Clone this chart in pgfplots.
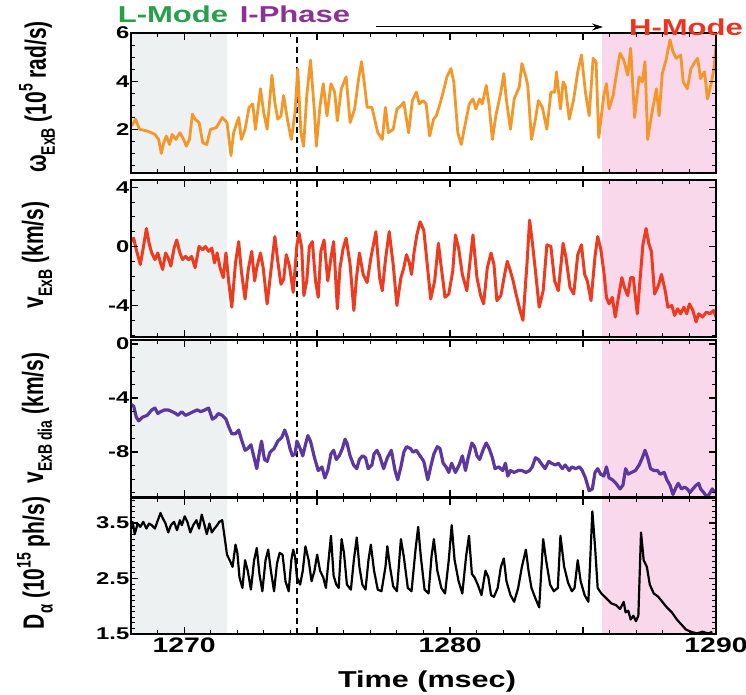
\documentclass[border=0pt]{standalone}
\usepackage{fontspec}
\setmainfont{Liberation Sans}
\usepackage{pgfplots}
\pgfplotsset{compat=1.18}
\usetikzlibrary{arrows.meta}
\definecolor{omegaC}{RGB}{245,150,40}
\definecolor{vexbC}{RGB}{238,58,30}
\definecolor{diaC}{RGB}{92,55,160}
\definecolor{lmodeC}{RGB}{238,241,242}
\definecolor{hmodeC}{RGB}{250,216,236}
\definecolor{greenT}{RGB}{40,160,75}
\definecolor{purpleT}{RGB}{140,50,150}
\definecolor{redT}{RGB}{238,50,30}
\pgfplotsset{
  panel/.style={
    scale only axis, width=585pt, xmin=1268, xmax=1290,
    xtick={1270,1275,1280,1285,1290},
    minor xtick={1268,1269,...,1290},
    xticklabels={},
    tick align=inside,
    axis line style={line width=1.6pt},
    major tick style={line width=1.3pt, black},
    minor tick style={line width=1pt, black},
    major tick length=7pt, minor tick length=4pt,
    yticklabel style={font=\bfseries\fontsize{17}{17}\selectfont, xscale=1.4, inner sep=1pt},
    /pgf/number format/assume math mode=true,
    axis on top,
  },
}
\newcommand{\phaseshade}[2]{%
  \fill[lmodeC] (axis cs:1268,#1) rectangle (axis cs:1271.6,#2);
  \fill[hmodeC] (axis cs:1285.7,#1) rectangle (axis cs:1290,#2);
  \draw[black, line width=1.6pt, dash pattern=on 6pt off 4pt] (axis cs:1274.25,#1) -- (axis cs:1274.25,#2);}
\begin{document}
\begin{tikzpicture}[x=1pt,y=1pt]
\useasboundingbox (0,0) rectangle (746,694);

% Panel 1: omega ExB
\begin{axis}[panel, at={(131pt,521pt)}, anchor=south west, height=140pt,
  ymin=0.2, ymax=6, ytick={2,4,6}, minor ytick={0.5,1,...,5.5}]
\phaseshade{0.2}{6}
\addplot[omegaC, line width=2.8pt, line join=round, mark=none] coordinates {
(1268.03,2.15)(1268.17,2.43)(1268.32,2.01)(1268.61,1.94)(1268.90,1.80)(1269.04,1.59)
(1269.14,1.01)(1269.23,1.45)(1269.33,1.73)(1269.45,1.38)(1269.55,1.80)(1269.69,1.59)
(1269.84,1.87)(1269.98,1.59)(1270.08,1.31)(1270.20,1.59)(1270.31,2.64)(1270.41,2.43)
(1270.56,2.29)(1270.70,1.45)(1270.85,1.38)(1270.99,2.01)(1271.21,2.08)(1271.43,2.50)
(1271.61,2.29)(1271.76,0.92)(1271.86,1.87)(1272.05,2.50)(1272.15,1.59)(1272.29,2.01)
(1272.44,2.92)(1272.58,3.06)(1272.68,2.01)(1272.87,3.69)(1272.99,2.71)(1273.12,2.01)
(1273.30,4.25)(1273.41,3.13)(1273.52,2.43)(1273.64,2.57)(1273.74,3.41)(1273.88,2.43)
(1274.03,1.59)(1274.17,2.71)(1274.27,4.53)(1274.39,1.87)(1274.49,1.31)(1274.61,3.41)
(1274.75,4.88)(1274.90,2.71)(1274.97,1.31)(1275.11,2.99)(1275.23,3.90)(1275.37,2.57)
(1275.52,3.90)(1275.66,3.55)(1275.76,2.36)(1275.91,3.69)(1276.09,4.18)(1276.24,2.29)
(1276.41,2.85)(1276.56,4.11)(1276.67,4.81)(1276.77,3.97)(1276.88,2.92)(1277.06,2.92)
(1277.28,1.87)(1277.45,1.59)(1277.57,2.92)(1277.68,1.87)(1277.86,2.01)(1278.00,2.85)
(1278.15,2.99)(1278.26,3.13)(1278.44,1.87)(1278.58,3.20)(1278.73,3.55)(1278.84,3.06)
(1278.99,3.20)(1279.10,3.06)(1279.23,1.73)(1279.38,2.43)(1279.48,2.57)(1279.62,3.06)
(1279.77,3.69)(1279.88,4.18)(1280.03,4.53)(1280.14,3.97)(1280.29,1.87)(1280.42,1.38)
(1280.53,2.01)(1280.72,3.06)(1280.86,3.27)(1280.97,2.85)(1281.11,3.27)(1281.21,3.06)
(1281.36,3.83)(1281.47,2.99)(1281.59,1.59)(1281.72,2.57)(1281.91,3.55)(1282.02,4.32)
(1282.12,3.20)(1282.27,2.01)(1282.41,3.27)(1282.60,3.76)(1282.70,4.74)(1282.85,4.18)
(1282.92,3.83)(1283.06,1.59)(1283.21,2.43)(1283.32,3.20)(1283.47,2.92)(1283.64,2.01)
(1283.79,3.55)(1283.93,3.55)(1284.00,4.39)(1284.15,2.85)(1284.25,3.97)(1284.33,3.83)
(1284.48,2.43)(1284.65,3.27)(1284.80,4.39)(1284.94,5.09)(1285.09,3.55)(1285.23,2.57)
(1285.38,4.95)(1285.49,4.81)(1285.59,1.66)(1285.78,3.41)(1285.88,3.90)(1285.98,2.85)
(1286.13,3.41)(1286.24,4.18)(1286.39,5.16)(1286.53,4.88)(1286.68,4.25)(1286.79,5.37)
(1286.94,2.50)(1287.11,4.18)(1287.23,3.97)(1287.33,4.81)(1287.43,1.59)(1287.57,2.57)
(1287.76,3.69)(1287.86,2.57)(1287.98,4.32)(1288.12,4.88)(1288.27,5.72)(1288.38,5.23)
(1288.50,4.95)(1288.67,5.09)(1288.77,3.97)(1288.92,3.69)(1289.06,4.53)(1289.21,4.81)
(1289.31,4.95)(1289.42,4.11)(1289.57,4.39)(1289.68,3.27)(1289.83,3.97)(1289.92,4.50)
(1290.00,5.50)};
\end{axis}

% Panel 2: v ExB
\begin{axis}[panel, at={(131pt,357pt)}, anchor=south west, height=157pt,
  ymin=-6.13, ymax=4.5, ytick={-4,0,4}, minor ytick={-6,-5,...,4}]
\phaseshade{-6.13}{4.5}
\addplot[vexbC, line width=3pt, line join=round, mark=none] coordinates {
(1268.00,0.33)(1268.10,0.56)(1268.20,-0.22)(1268.35,-1.22)(1268.46,-0.11)(1268.58,1.22)
(1268.68,0.22)(1268.78,-0.44)(1268.90,-0.89)(1269.01,-0.44)(1269.11,-1.11)(1269.19,-1.56)
(1269.30,-0.44)(1269.40,-0.78)(1269.50,-1.33)(1269.62,-0.11)(1269.72,0.44)(1269.84,-0.44)
(1269.94,-0.89)(1270.05,-0.67)(1270.17,-0.89)(1270.28,-0.67)(1270.41,-1.44)(1270.56,0)
(1270.70,-0.22)(1270.80,0)(1270.92,-0.33)(1271.04,-0.11)(1271.14,-1.11)(1271.24,-0.44)
(1271.35,-1.44)(1271.47,-2.11)(1271.57,-0.44)(1271.67,-2.33)(1271.79,-4.11)(1271.93,-1.11)
(1272.05,0.33)(1272.15,-1.67)(1272.29,-3.56)(1272.41,-1.56)(1272.54,-0.33)(1272.65,-2.33)
(1272.73,-1.44)(1272.87,-0.44)(1272.97,-1.44)(1273.12,-3.89)(1273.26,-1.67)(1273.41,0.67)
(1273.52,-1.0)(1273.64,-2.56)(1273.74,-2.22)(1273.84,-0.56)(1273.96,-1.33)(1274.10,-3.11)
(1274.24,0.11)(1274.32,0.89)(1274.42,-0.11)(1274.50,-3.33)(1274.61,-2.33)(1274.71,0)
(1274.82,0.33)(1274.94,-2.33)(1275.04,-3.44)(1275.14,-0.33)(1275.26,0.44)(1275.40,-2.33)
(1275.52,-0.78)(1275.62,0.33)(1275.76,-4.22)(1275.86,-1.44)(1275.98,-0.11)(1276.09,0.56)
(1276.24,-1.22)(1276.38,-4.33)(1276.48,-2.11)(1276.59,-0.44)(1276.73,-1.89)(1276.88,-2.44)
(1277.02,-0.78)(1277.21,1.0)(1277.35,-2.11)(1277.45,-3.0)(1277.57,-0.89)(1277.71,1.0)
(1277.86,-1.22)(1278.00,-4.0)(1278.15,-2.11)(1278.26,-1.44)(1278.36,-0.56)(1278.47,-1.11)
(1278.55,-1.89)(1278.65,-0.33)(1278.75,0.78)(1278.87,1.67)(1279.01,1.11)(1279.16,-1.56)
(1279.27,-3.56)(1279.42,-2.33)(1279.56,0.22)(1279.67,-1.44)(1279.81,-3.44)(1279.95,-3.22)
(1280.10,-1.67)(1280.20,0.78)(1280.32,-0.11)(1280.46,-1.89)(1280.63,-3.0)(1280.75,-1.0)
(1280.86,0.78)(1281.01,-2.11)(1281.15,-3.33)(1281.26,-3.89)(1281.40,-1.44)(1281.54,-0.44)
(1281.65,-1.22)(1281.76,-3.67)(1281.91,-3.33)(1282.05,-1.89)(1282.15,-1.0)(1282.27,-1.67)
(1282.37,-2.33)(1282.48,-3.22)(1282.63,-4.33)(1282.74,-5.0)(1282.89,-1.22)(1282.99,1.78)
(1283.09,0.33)(1283.21,-1.67)(1283.35,-4.11)(1283.50,-3.0)(1283.64,0.11)(1283.79,0)
(1283.93,-2.33)(1284.07,-3.0)(1284.25,0.22)(1284.36,-0.78)(1284.51,-2.78)(1284.65,-3.22)
(1284.80,-0.56)(1284.94,0.11)(1285.06,-1.89)(1285.16,-2.33)(1285.30,-3.67)(1285.45,-0.67)
(1285.55,0.67)(1285.66,-0.11)(1285.78,-1.67)(1285.88,-3.44)(1285.98,-3.89)(1286.10,-3.44)
(1286.21,-4.78)(1286.31,-3.67)(1286.46,-2.11)(1286.56,-2.78)(1286.68,-3.33)(1286.79,-2.11)
(1286.89,-2.11)(1287.04,-4.56)(1287.14,-2.33)(1287.25,0.11)(1287.37,1.22)(1287.47,0.22)
(1287.57,-0.33)(1287.69,-3.22)(1287.83,-2.67)(1287.95,-1.89)(1288.09,-3.0)(1288.19,-4.11)
(1288.34,-4.0)(1288.44,-4.67)(1288.56,-4.22)(1288.67,-4.56)(1288.79,-4.11)(1288.90,-4.56)
(1289.00,-3.89)(1289.13,-4.33)(1289.25,-5.11)(1289.35,-4.56)(1289.49,-4.78)(1289.64,-4.44)
(1289.77,-4.56)(1289.91,-4.33)(1290.00,-4.78)};
\end{axis}

% Panel 3: v ExB dia
\begin{axis}[panel, at={(131pt,197pt)}, anchor=south west, height=157pt,
  ymin=-11.33, ymax=0.3, ytick={-8,-4,0}, minor ytick={-11,-10,...,0}]
\phaseshade{-11.33}{0.3}
\addplot[diaC, line width=3.2pt, line join=round, mark=none] coordinates {
(1268.00,-4.47)(1268.10,-4.60)(1268.20,-5.42)(1268.29,-5.69)(1268.43,-5.42)(1268.61,-5.28)
(1268.78,-4.88)(1268.90,-4.74)(1269.01,-5.15)(1269.11,-5.01)(1269.26,-4.88)(1269.40,-4.88)
(1269.55,-5.01)(1269.69,-5.15)(1269.76,-5.28)(1269.91,-5.01)(1270.05,-5.28)(1270.20,-5.15)
(1270.34,-5.01)(1270.49,-4.88)(1270.63,-5.01)(1270.78,-4.88)(1270.92,-4.74)(1271.06,-5.56)
(1271.18,-5.42)(1271.28,-5.15)(1271.43,-5.28)(1271.57,-5.56)(1271.67,-6.10)(1271.79,-6.65)
(1271.93,-6.65)(1272.05,-6.37)(1272.15,-7.05)(1272.29,-7.87)(1272.39,-7.74)(1272.51,-7.46)
(1272.63,-8.42)(1272.73,-9.23)(1272.83,-8.01)(1272.91,-7.19)(1273.02,-8.55)(1273.12,-8.69)
(1273.23,-8.01)(1273.38,-7.74)(1273.52,-7.19)(1273.67,-6.92)(1273.78,-6.37)(1273.88,-6.92)
(1273.98,-7.74)(1274.07,-8.28)(1274.17,-8.14)(1274.24,-7.19)(1274.36,-7.74)(1274.46,-8.28)
(1274.56,-7.46)(1274.65,-6.78)(1274.75,-7.19)(1274.90,-8.42)(1275.04,-9.37)(1275.18,-9.10)
(1275.29,-9.92)(1275.40,-9.37)(1275.52,-8.14)(1275.62,-7.87)(1275.72,-8.55)(1275.83,-8.28)
(1275.95,-7.74)(1276.05,-7.05)(1276.12,-7.33)(1276.24,-8.28)(1276.37,-8.96)(1276.49,-9.23)
(1276.59,-8.55)(1276.70,-8.28)(1276.82,-8.42)(1276.92,-9.23)(1277.06,-8.96)(1277.14,-8.14)
(1277.25,-7.87)(1277.35,-8.28)(1277.50,-9.23)(1277.64,-8.42)(1277.79,-7.87)(1277.93,-9.37)
(1278.03,-10.05)(1278.15,-9.10)(1278.26,-8.01)(1278.36,-7.60)(1278.51,-7.74)(1278.61,-8.01)
(1278.73,-7.87)(1278.87,-8.28)(1279.01,-8.69)(1279.16,-10.05)(1279.27,-9.10)(1279.39,-8.14)
(1279.52,-7.60)(1279.62,-7.74)(1279.74,-8.83)(1279.85,-9.10)(1279.95,-9.51)(1280.06,-8.83)
(1280.20,-9.51)(1280.34,-8.96)(1280.46,-8.28)(1280.58,-9.37)(1280.68,-8.42)(1280.82,-7.33)
(1280.92,-7.60)(1281.01,-8.28)(1281.11,-8.55)(1281.26,-7.74)(1281.36,-7.33)(1281.47,-7.74)
(1281.59,-8.42)(1281.69,-9.23)(1281.83,-9.10)(1281.98,-9.37)(1282.08,-8.83)(1282.17,-9.78)
(1282.27,-9.37)(1282.41,-9.51)(1282.56,-9.37)(1282.70,-9.37)(1282.85,-9.51)(1282.99,-9.37)
(1283.09,-9.10)(1283.21,-8.42)(1283.32,-8.55)(1283.42,-8.83)(1283.57,-9.23)(1283.71,-8.69)
(1283.81,-8.83)(1283.96,-8.96)(1284.07,-8.83)(1284.22,-9.23)(1284.33,-8.96)(1284.48,-9.37)
(1284.58,-9.10)(1284.72,-9.23)(1284.87,-9.10)(1284.97,-9.37)(1285.09,-9.92)(1285.23,-10.87)
(1285.35,-10.73)(1285.45,-9.51)(1285.55,-9.23)(1285.66,-9.64)(1285.78,-9.78)(1285.88,-9.10)
(1285.98,-9.92)(1286.10,-10.05)(1286.24,-10.32)(1286.39,-10.73)(1286.50,-10.46)(1286.60,-9.23)
(1286.70,-9.64)(1286.82,-9.51)(1286.97,-9.37)(1287.11,-8.96)(1287.23,-8.42)(1287.33,-7.87)
(1287.43,-8.42)(1287.54,-9.23)(1287.66,-9.37)(1287.80,-9.37)(1287.90,-9.64)(1288.05,-9.51)
(1288.15,-10.05)(1288.27,-10.46)(1288.38,-11.14)(1288.50,-10.60)(1288.58,-10.32)(1288.70,-10.73)
(1288.82,-10.60)(1288.92,-10.73)(1289.02,-11.00)(1289.13,-10.73)(1289.25,-10.46)(1289.35,-10.32)
(1289.42,-10.73)(1289.54,-11.00)(1289.64,-11.28)(1289.74,-11.14)(1289.86,-10.73)(1289.97,-11.00)};
\end{axis}

% Panel 4: D alpha
\begin{axis}[panel, at={(131pt,60pt)}, anchor=south west, height=136pt,
  ymin=1.5, ymax=3.95, ytick={1.5,2.5,3.5}, minor ytick={1.6,1.7,...,3.9},
  /pgf/number format/fixed, /pgf/number format/precision=1,
  xticklabels={1270,,1280,,1290},
  xticklabel style={font=\bfseries\fontsize{21}{21}\selectfont, xscale=1.35}]
\phaseshade{1.5}{3.95}
\addplot[black, line width=2.2pt, line join=round, mark=none] coordinates {
(1268.00,3.40)(1268.06,3.52)(1268.14,3.30)(1268.25,3.49)(1268.35,3.43)(1268.46,3.52)
(1268.58,3.40)(1268.68,3.49)(1268.78,3.46)(1268.90,3.40)(1269.01,3.55)(1269.11,3.68)
(1269.19,3.59)(1269.30,3.49)(1269.40,3.33)(1269.50,3.46)(1269.62,3.52)(1269.73,3.37)
(1269.84,3.55)(1269.91,3.46)(1270.02,3.62)(1270.12,3.52)(1270.23,3.33)(1270.34,3.46)
(1270.46,3.55)(1270.56,3.40)(1270.66,3.65)(1270.75,3.49)(1270.85,3.30)(1270.95,3.49)
(1271.04,3.33)(1271.14,3.40)(1271.24,3.46)(1271.32,3.52)(1271.43,3.55)(1271.53,3.21)
(1271.61,2.93)(1271.71,2.83)(1271.82,2.71)(1271.93,3.11)(1272.00,2.96)(1272.08,2.52)
(1272.19,2.33)(1272.29,2.83)(1272.39,2.64)(1272.51,2.30)(1272.63,2.83)(1272.73,3.05)
(1272.83,2.58)(1272.94,2.27)(1273.06,2.83)(1273.16,3.02)(1273.26,2.64)(1273.38,2.27)
(1273.49,2.77)(1273.59,2.96)(1273.70,2.93)(1273.81,2.45)(1273.93,2.27)(1274.03,2.83)
(1274.10,3.02)(1274.17,2.89)(1274.24,2.52)(1274.36,2.39)(1274.46,2.64)(1274.56,3.08)
(1274.68,2.83)(1274.79,2.45)(1274.90,2.64)(1275.00,2.93)(1275.11,2.64)(1275.23,2.52)
(1275.33,2.33)(1275.43,2.83)(1275.52,3.27)(1275.62,2.55)(1275.72,2.39)(1275.81,2.33)
(1275.92,3.21)(1276.01,2.96)(1276.12,2.39)(1276.27,2.30)(1276.38,2.83)(1276.49,3.24)
(1276.59,2.71)(1276.70,2.39)(1276.82,2.30)(1276.93,2.83)(1277.02,3.11)(1277.14,2.64)
(1277.28,2.30)(1277.42,2.27)(1277.57,2.71)(1277.64,3.08)(1277.74,2.71)(1277.86,2.36)
(1278.00,2.27)(1278.15,3.21)(1278.26,2.89)(1278.41,2.33)(1278.55,2.27)(1278.70,3.02)
(1278.80,3.43)(1278.90,2.89)(1279.04,2.30)(1279.19,2.23)(1279.30,2.89)(1279.39,3.21)
(1279.52,2.64)(1279.67,2.33)(1279.81,2.23)(1279.95,2.83)(1280.06,3.46)(1280.17,2.83)
(1280.32,2.45)(1280.46,2.23)(1280.60,2.89)(1280.71,3.27)(1280.82,2.58)(1280.92,2.52)
(1281.04,2.39)(1281.18,2.20)(1281.33,2.64)(1281.44,2.52)(1281.54,2.20)(1281.65,2.17)
(1281.79,2.33)(1281.91,2.71)(1282.02,2.86)(1282.12,2.45)(1282.27,2.20)(1282.41,2.08)
(1282.56,2.33)(1282.70,2.71)(1282.85,3.02)(1282.95,2.64)(1283.06,2.33)(1283.21,2.14)
(1283.35,1.98)(1283.50,3.21)(1283.61,2.83)(1283.76,2.39)(1283.90,2.27)(1284.05,2.33)
(1284.15,3.27)(1284.29,2.71)(1284.44,2.42)(1284.58,2.27)(1284.68,2.33)(1284.80,2.83)
(1284.91,2.45)(1285.06,2.20)(1285.20,2.08)(1285.35,3.71)(1285.45,3.08)(1285.55,2.33)
(1285.69,2.23)(1285.88,2.14)(1286.07,2.05)(1286.24,2.02)(1286.39,1.95)(1286.53,2.08)
(1286.60,1.89)(1286.70,1.92)(1286.79,1.76)(1286.89,1.83)(1286.99,1.73)(1287.08,1.83)
(1287.18,3.33)(1287.28,2.83)(1287.40,2.71)(1287.51,2.39)(1287.66,2.23)(1287.83,2.17)
(1287.98,2.08)(1288.15,1.98)(1288.34,1.89)(1288.53,1.76)(1288.70,1.67)(1288.87,1.58)
(1289.06,1.54)(1289.28,1.51)(1289.49,1.54)(1289.71,1.51)(1289.86,1.54)};
\end{axis}

% y-axis labels
\node[font=\bfseries\fontsize{21}{21}\selectfont, xscale=1.4, rotate=90] at (37,597)
  {ω\raisebox{-0.3em}{\fontsize{14}{14}\selectfont ExB} (10\raisebox{0.45em}{\fontsize{14}{14}\selectfont 5} rad/s)};
\node[font=\bfseries\fontsize{21}{21}\selectfont, xscale=1.4, rotate=90] at (37,439)
  {v\raisebox{-0.3em}{\fontsize{14}{14}\selectfont ExB} (km/s)};
\node[font=\bfseries\fontsize{21}{21}\selectfont, xscale=1.4, rotate=90] at (37,276)
  {v\raisebox{-0.3em}{\fontsize{14}{14}\selectfont ExB dia} (km/s)};
\node[font=\bfseries\fontsize{21}{21}\selectfont, xscale=1.4, rotate=90] at (35,131)
  {D\raisebox{-0.3em}{\fontsize{15}{15}\selectfont α} (10\raisebox{0.45em}{\fontsize{14}{14}\selectfont 15} ph/s)};
% x-axis label
\node[font=\bfseries\fontsize{23}{23}\selectfont, xscale=1.33] at (427,12) {Time (msec)};
% phase annotations
\node[inner sep=0pt, font=\bfseries\fontsize{23}{23}\selectfont, xscale=1.35, text=greenT] at (173,680) {L-Mode};
\node[inner sep=0pt, font=\bfseries\fontsize{23}{23}\selectfont, xscale=1.35, text=purpleT] at (295,680) {I-Phase};
\node[inner sep=0pt, font=\bfseries\fontsize{23}{23}\selectfont, xscale=1.35, text=redT] at (686,667) {H-Mode};
\draw[black, line width=1pt, -{Stealth[length=11pt,width=7pt]}] (376,667) -- (603,667);
\end{tikzpicture}
\end{document}
